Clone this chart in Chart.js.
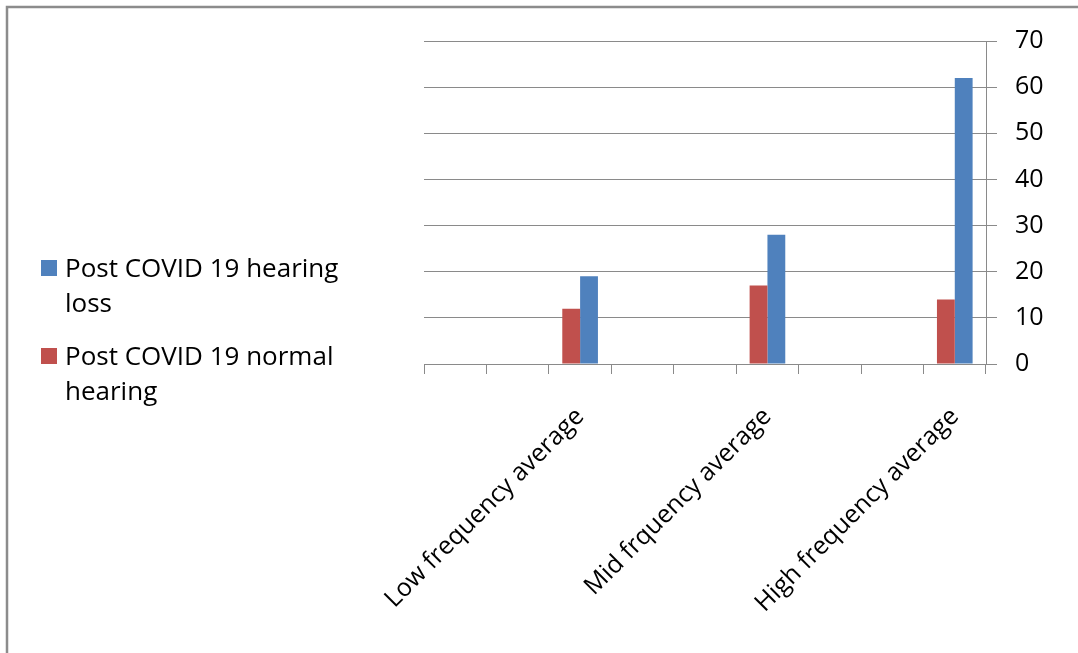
<!DOCTYPE html>
<html>
<head>
<meta charset="utf-8">
<script src="https://cdn.jsdelivr.net/npm/chart.js@4.4.1/dist/chart.umd.min.js"></script>
<style>
  html, body { margin: 0; padding: 0; background: #fff; overflow: hidden; }
  canvas { display: block; }
</style>
</head>
<body>
<canvas id="chart" width="1078" height="653"></canvas>
<script>
// Category slots (empty slots keep the spacing between the three groups)
const categories = ['', '', 'Low frequency average', '', '', 'Mid frquency average', '', '', 'High frequency average'];
const normalHearing = [null, null, 12, null, null, 17, null, null, 14];
const hearingLoss   = [null, null, 19, null, null, 28, null, null, 62];
const seriesNames = ['Post COVID 19 normal hearing', 'Post COVID 19 hearing loss'];
const seriesColors = ['#C0504D', '#4F81BD'];
const yTicks = [0, 10, 20, 30, 40, 50, 60, 70];

const FONT = '"Open Sans", "DejaVu Sans", sans-serif';
const GRID = '#8a8a8a';

// Outer frame: top and left edges
const framePlugin = {
  id: 'frame',
  beforeDraw(chart) {
    const ctx = chart.ctx;
    ctx.save();
    ctx.strokeStyle = '#8c8c8c';
    ctx.lineWidth = 2.5;
    ctx.beginPath();
    ctx.moveTo(chart.width, 7);
    ctx.lineTo(7, 7);
    ctx.lineTo(7, chart.height);
    ctx.stroke();
    ctx.restore();
  }
};

function wrapText(ctx, text, maxWidth) {
  const words = text.split(' ');
  const lines = [];
  let cur = '';
  words.forEach(w => {
    const test = cur ? cur + ' ' + w : w;
    if (cur && ctx.measureText(test).width > maxWidth) {
      lines.push(cur);
      cur = w;
    } else {
      cur = test;
    }
  });
  if (cur) lines.push(cur);
  return lines;
}

// Legend on the left with wrapped labels, last series listed first
const sideLegend = {
  id: 'sideLegend',
  afterDraw(chart) {
    const ctx = chart.ctx;
    const items = chart.data.datasets.slice().reverse();
    ctx.save();
    ctx.font = '26px ' + FONT;
    ctx.textAlign = 'left';
    ctx.textBaseline = 'alphabetic';
    let top = 260;
    items.forEach(ds => {
      ctx.fillStyle = ds.backgroundColor;
      ctx.fillRect(41, top, 16, 16);
      ctx.fillStyle = '#000';
      const lines = wrapText(ctx, ds.label, 290);
      lines.forEach((ln, i) => ctx.fillText(ln, 65, top + 17 + i * 35));
      top += 88;
    });
    ctx.restore();
  }
};

new Chart(document.getElementById('chart'), {
  type: 'bar',
  data: {
    labels: categories,
    datasets: [
      { label: seriesNames[0], data: normalHearing, backgroundColor: seriesColors[0] },
      { label: seriesNames[1], data: hearingLoss, backgroundColor: seriesColors[1] }
    ]
  },
  options: {
    responsive: false,
    animation: false,
    devicePixelRatio: 1,
    layout: { padding: { left: 424, top: 41, right: 0, bottom: 0 } },
    datasets: { bar: { categoryPercentage: 0.571, barPercentage: 1 } },
    plugins: {
      legend: { display: false },
      tooltip: { enabled: false }
    },
    scales: {
      x: {
        grid: { offset: true, drawOnChartArea: false, drawTicks: true, tickLength: 10, color: GRID, lineWidth: 1 },
        border: { color: GRID, width: 1 },
        ticks: {
          autoSkip: false, minRotation: 45, maxRotation: 45,
          color: '#000', padding: 28,
          font: { family: FONT, size: 25 }
        },
        afterFit(scale) { scale.height = 289; }
      },
      y: {
        position: 'right',
        min: 0, max: 70,
        afterBuildTicks(scale) { scale.ticks = yTicks.map(v => ({ value: v })); },
        ticks: { color: '#000', padding: 18, font: { family: FONT, size: 25 } },
        grid: { color: GRID, lineWidth: 1, tickLength: 11 },
        border: { color: GRID, width: 1 },
        afterFit(scale) { scale.width = 92; }
      }
    }
  },
  plugins: [framePlugin, sideLegend]
});
</script>
</body>
</html>
